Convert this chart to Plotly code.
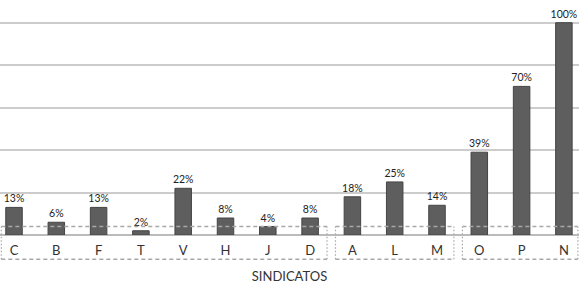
import plotly.graph_objects as go

categories = ["C", "B", "F", "T", "V", "H", "J", "D", "A", "L", "M", "O", "P", "N"]
values = [13, 6, 13, 2, 22, 8, 4, 8, 18, 25, 14, 39, 70, 100]
labels = [f"{v}%" for v in values]
groups = [(0, 7), (8, 10), (11, 13)]

fig = go.Figure()
fig.add_trace(go.Bar(
    x=list(range(len(categories))), y=values, text=labels,
    textposition="outside", cliponaxis=False, constraintext="none",
    textfont=dict(family="Lato", size=10.5, color="#222222"),
    outsidetextfont=dict(family="Lato", size=10.5, color="#222222"),
    marker=dict(color="#5e5e5e", line=dict(color="#444444", width=1)),
    width=0.39, hoverinfo="skip",
))

shapes = []
for i, (a, b) in enumerate(groups):
    x0 = a - 0.4 if i > 0 else -0.3
    x1 = b + 0.4 if i < len(groups) - 1 else 13.33
    common = dict(xref="x", yref="paper", line=dict(color="#a8a8a8", width=1.5, dash="4px,3px"))
    shapes.append(dict(type="line", x0=x0, x1=x1, y0=0.036, y1=0.036, **common))
    shapes.append(dict(type="line", x0=x0, x1=x1, y0=-0.103, y1=-0.103, **common))
    vc = dict(xref="x", yref="paper", line=dict(color="#a8a8a8", width=1.2, dash="1.5px,2px"))
    shapes.append(dict(type="line", x0=x0, x1=x0, y0=-0.103, y1=0.036, **vc))
    shapes.append(dict(type="line", x0=x1, x1=x1, y0=-0.103, y1=0.036, **vc))

fig.update_layout(
    width=579, height=286,
    margin=dict(l=0, r=0, t=0, b=51, autoexpand=False),
    paper_bgcolor="white", plot_bgcolor="white",
    showlegend=False,
    shapes=shapes,
    font=dict(family="Lato", color="#333333"),
    xaxis=dict(
        range=[-0.331, 13.357], automargin=False,
        tickmode="array", tickvals=list(range(len(categories))), ticktext=categories,
        tickfont=dict(size=13, color="#333333"), ticklabelstandoff=6,
        showgrid=False, zeroline=False, showline=False, ticks="",
        title=dict(text="SINDICATOS", font=dict(size=13, color="#333333"), standoff=14),
    ),
    yaxis=dict(
        range=[0, 110.7], automargin=False,
        tickvals=[0, 20, 40, 60, 80, 100], showticklabels=False,
        showgrid=True, gridcolor="#cccccc", gridwidth=1.5,
        zeroline=True, zerolinecolor="#bbbbbb", zerolinewidth=1.5,
    ),
)

fig.write_html("out.html", config={"displayModeBar": False},
               post_script="document.body.style.margin='0';")
